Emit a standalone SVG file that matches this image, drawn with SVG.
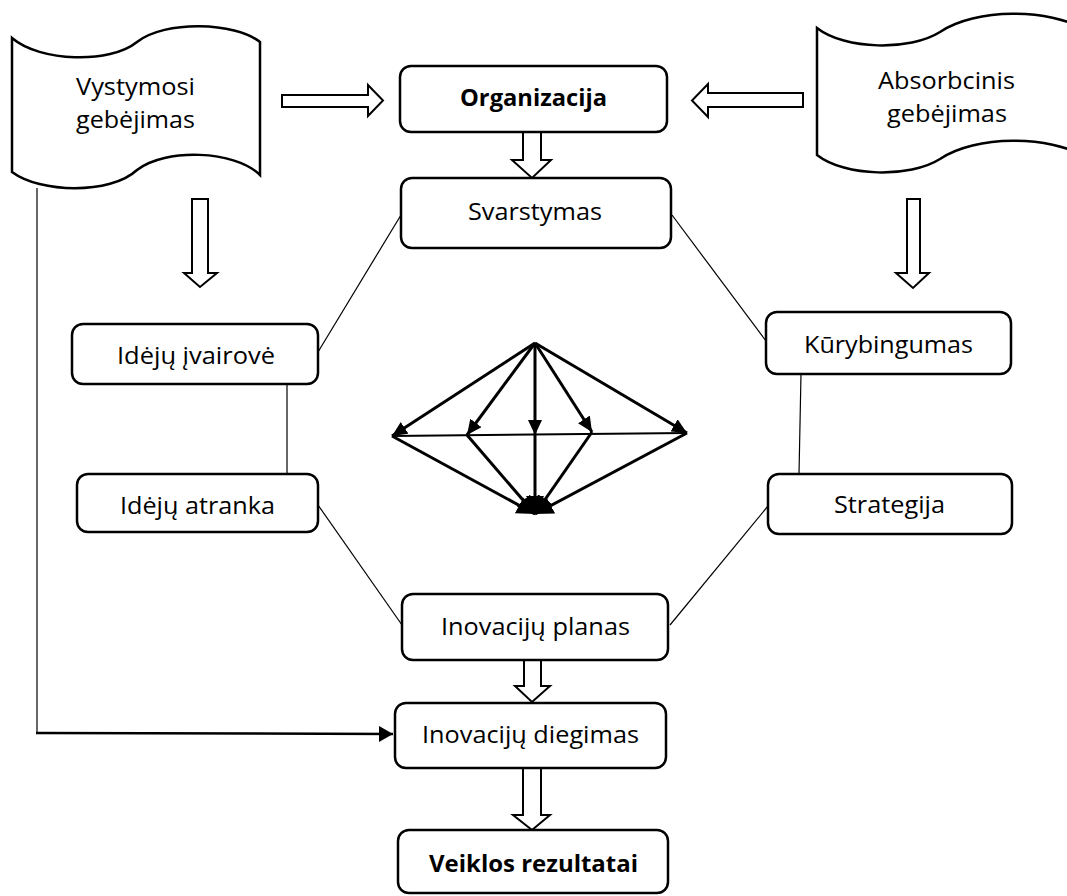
<svg xmlns="http://www.w3.org/2000/svg" width="1067" height="896" viewBox="0 0 1067 896">
<style>
.box{fill:#fff;stroke:#000;stroke-width:2.5}
.doc{fill:#fff;stroke:#000;stroke-width:2.5}
.blk{fill:#fff;stroke:#000;stroke-width:2;stroke-linejoin:miter}
.thin{fill:none;stroke:#000;stroke-width:1.2}
.thick{fill:none;stroke:#000;stroke-width:3}
.t{font-family:"Open Sans","Liberation Sans",sans-serif;font-size:24px;fill:#000}
.b{font-weight:bold}
</style>
<defs>
<marker id="ah" markerUnits="userSpaceOnUse" markerWidth="16" markerHeight="14" refX="15" refY="7" orient="auto">
<path d="M0,0 L15,7 L0,14 Z" fill="#000"/>
</marker>
<marker id="ahb" markerUnits="userSpaceOnUse" markerWidth="19" markerHeight="18" refX="18" refY="9" orient="auto">
<path d="M0,0 L18,9 L0,18 Z" fill="#000"/>
</marker>
<marker id="ah2" markerUnits="userSpaceOnUse" markerWidth="15" markerHeight="16" refX="14" refY="8" orient="auto">
<path d="M0,0 L14,8 L0,16 Z" fill="#000"/>
</marker>
</defs>
<rect width="1067" height="896" fill="#fff"/>

<g id="connectors">
<line class="thin" x1="401" y1="215" x2="318" y2="352"/>
<line class="thin" x1="672" y1="215" x2="766" y2="341"/>
<line class="thin" x1="287" y1="384" x2="287" y2="474"/>
<line class="thin" x1="801" y1="374" x2="799" y2="474"/>
<line class="thin" x1="318" y1="505" x2="402" y2="625"/>
<line class="thin" x1="768" y1="506" x2="670" y2="625"/>
<polyline class="thin" points="37,188 37,734"/>
<line x1="36" y1="733" x2="393" y2="734" stroke="#000" stroke-width="2.5" marker-end="url(#ah2)"/>
<polygon class="blk" points="282,95 368,95 368,85 383,100.5 368,116 368,107 282,107"/>
<polygon class="blk" points="803,93 708,93 708,84 692,100.5 708,117 708,107 803,107"/>
<polygon class="blk" points="192,199 208,199 208,273 217,273 200,287 184,273 192,273"/>
<polygon class="blk" points="907,199 920,199 920,273 929,273 913,288 896,273 907,273"/>
<polygon class="blk" points="523,132 541,132 541,160 551,160 532,178 512,160 523,160"/>
<polygon class="blk" points="524,660 541,660 541,686 550,686 532,702 515,686 524,686"/>
<polygon class="blk" points="523,768 541,768 541,815 550,815 532,830 513,815 523,815"/>
</g>

<g id="center-figure">
<line x1="392" y1="436" x2="687" y2="433" stroke="#000" stroke-width="2"/>
<line class="thick" x1="535" y1="343" x2="392" y2="436" marker-end="url(#ah)"/>
<line class="thick" x1="535" y1="343" x2="467" y2="435" marker-end="url(#ah)"/>
<line class="thick" x1="535" y1="343" x2="535" y2="435" marker-end="url(#ah)"/>
<line class="thick" x1="535" y1="343" x2="592" y2="432" marker-end="url(#ah)"/>
<line class="thick" x1="535" y1="343" x2="687" y2="433" marker-end="url(#ah)"/>
<line class="thick" x1="392" y1="436" x2="535" y2="514" marker-end="url(#ahb)"/>
<line class="thick" x1="467" y1="435" x2="535" y2="514" marker-end="url(#ahb)"/>
<line class="thick" x1="535" y1="435" x2="535" y2="514" marker-end="url(#ahb)"/>
<line class="thick" x1="592" y1="432" x2="535" y2="514" marker-end="url(#ahb)"/>
<line class="thick" x1="687" y1="433" x2="535" y2="514" marker-end="url(#ahb)"/>
</g>

<g id="vystymosi">
<path class="doc" d="M12,38 C40,62 110,64 137,42 C165,20 235,22 260,42 L260,175 C235,150 165,148 137,170 C110,195 40,193 12,172 Z"/>
<text class="t" x="76" y="95" textLength="119" lengthAdjust="spacingAndGlyphs">Vystymosi</text>
<text class="t" x="76" y="128" textLength="119" lengthAdjust="spacingAndGlyphs">gebėjimas</text>
</g>

<g id="absorbcinis">
<path class="doc" d="M817,28 C845,50 910,51 940,32 C975,8 1050,8 1085,30 L1085,157 C1050,135 975,135 940,159 C910,178 845,177 817,155 Z"/>
<text class="t" x="878" y="89" textLength="137" lengthAdjust="spacingAndGlyphs">Absorbcinis</text>
<text class="t" x="887" y="122" textLength="120" lengthAdjust="spacingAndGlyphs">gebėjimas</text>
</g>

<g id="organizacija">
<rect class="box" x="400" y="66" width="267" height="66" rx="11"/>
<text class="t b" x="460" y="106" textLength="147" lengthAdjust="spacingAndGlyphs">Organizacija</text>
</g>

<g id="svarstymas">
<rect class="box" x="401" y="178" width="270" height="70" rx="11"/>
<text class="t" x="468" y="220" textLength="134" lengthAdjust="spacingAndGlyphs">Svarstymas</text>
</g>

<g id="ideju-ivairove">
<rect class="box" x="72" y="324" width="246" height="60" rx="11"/>
<text class="t" x="117" y="364" textLength="158" lengthAdjust="spacingAndGlyphs">Idėjų įvairovė</text>
</g>

<g id="ideju-atranka">
<rect class="box" x="77" y="474" width="241" height="58" rx="11"/>
<text class="t" x="120" y="514" textLength="155" lengthAdjust="spacingAndGlyphs">Idėjų atranka</text>
</g>

<g id="kurybingumas">
<rect class="box" x="766" y="312" width="245" height="62" rx="11"/>
<text class="t" x="804" y="353" textLength="169" lengthAdjust="spacingAndGlyphs">Kūrybingumas</text>
</g>

<g id="strategija">
<rect class="box" x="768" y="474" width="244" height="60" rx="11"/>
<text class="t" x="834" y="513" textLength="111" lengthAdjust="spacingAndGlyphs">Strategija</text>
</g>

<g id="inovaciju-planas">
<rect class="box" x="402" y="594" width="266" height="66" rx="11"/>
<text class="t" x="441" y="635" textLength="189" lengthAdjust="spacingAndGlyphs">Inovacijų planas</text>
</g>

<g id="inovaciju-diegimas">
<rect class="box" x="395" y="703" width="271" height="65" rx="11"/>
<text class="t" x="422" y="743" textLength="217" lengthAdjust="spacingAndGlyphs">Inovacijų diegimas</text>
</g>

<g id="veiklos-rezultatai">
<rect class="box" x="398" y="830" width="270" height="63" rx="11"/>
<text class="t b" x="429" y="872" textLength="209" lengthAdjust="spacingAndGlyphs">Veiklos rezultatai</text>
</g>
</svg>
